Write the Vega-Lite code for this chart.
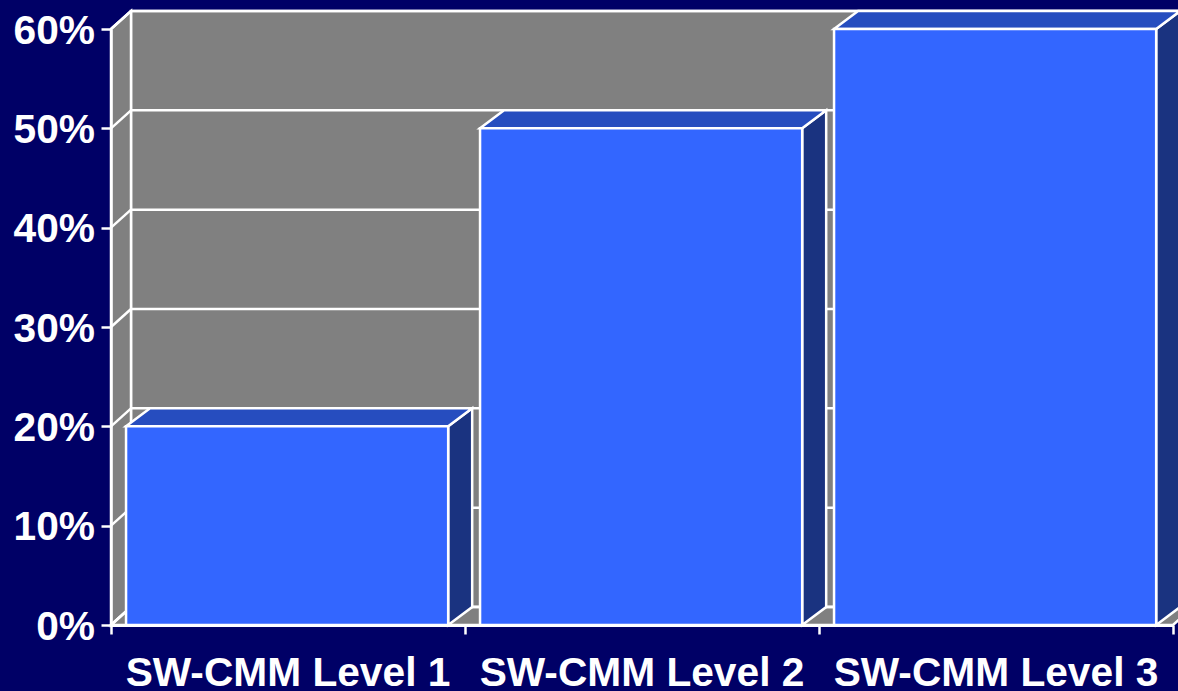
{
  "$schema": "https://vega.github.io/schema/vega-lite/v6.json",
  "width": 1062,
  "height": 596,
  "autosize": {"type": "none"},
  "padding": {"left": 111, "top": 29, "right": 5, "bottom": 66},
  "background": "#000066",
  "config": {"view": {"stroke": null}},
  "datasets": {
    "bars": [
      {"level": "SW-CMM Level 1", "slot": 0, "share": 0.2},
      {"level": "SW-CMM Level 2", "slot": 1, "share": 0.5},
      {"level": "SW-CMM Level 3", "slot": 2, "share": 0.6}
    ],
    "gridlines": [
      {"share": 0}, {"share": 0.1}, {"share": 0.2}, {"share": 0.3},
      {"share": 0.4}, {"share": 0.5}, {"share": 0.6}
    ],
    "frame": [{"xStart": 0, "xEnd": 3, "yStart": 0, "yEnd": 0.6}]
  },
  "encoding": {},
  "layer": [
    {
      "description": "Back wall",
      "data": {"name": "frame"},
      "transform": [
        {"calculate": "[datum.xStart + 0.0565, datum.xEnd + 0.0565]", "as": "vx"},
        {"flatten": ["vx"]},
        {"calculate": "datum.yEnd + 0.0181", "as": "vTop"},
        {"calculate": "datum.yStart + 0.0181", "as": "vBase"}
      ],
      "mark": {"type": "area", "orient": "vertical", "fill": "#808080", "stroke": "white", "strokeWidth": 2.5},
      "encoding": {
        "x": {"field": "vx", "type": "quantitative", "scale": {"domain": [0, 3], "nice": false, "zero": false},
          "axis": {"values": [0, 1, 2, 3], "labels": false, "title": null, "grid": false, "domainColor": "white", "domainWidth": 3, "tickColor": "white", "tickWidth": 2.5, "tickSize": 9, "zindex": 1}},
        "y": {"field": "vTop", "type": "quantitative", "scale": {"domain": [0, 0.6], "nice": false, "zero": false},
          "axis": {"values": [0, 0.1, 0.2, 0.3, 0.4, 0.5, 0.6], "format": ".0%", "title": null, "grid": false, "domainColor": "white", "domainWidth": 2.5, "tickColor": "white", "tickWidth": 2.5, "tickSize": 10, "labelColor": "white", "labelFont": "Liberation Sans", "labelFontWeight": "bold", "labelFontSize": 40.7, "labelPadding": 6.5, "labelBaseline": "middle", "labelOffset": 2, "zindex": 1}},
        "y2": {"field": "vBase"}
      }
    },
    {
      "description": "Left wall",
      "data": {"name": "frame"},
      "transform": [
        {"calculate": "[datum.xStart, datum.xStart + 0.0565]", "as": "vx"},
        {"calculate": "[datum.yEnd, datum.yEnd + 0.0181]", "as": "vTop"},
        {"calculate": "[datum.yStart, datum.yStart + 0.0181]", "as": "vBase"},
        {"flatten": ["vx", "vTop", "vBase"]}
      ],
      "mark": {"type": "area", "orient": "vertical", "fill": "#808080", "stroke": "white", "strokeWidth": 2.5},
      "encoding": {
        "x": {"field": "vx", "type": "quantitative"},
        "y": {"field": "vTop", "type": "quantitative"},
        "y2": {"field": "vBase"}
      }
    },
    {
      "description": "Floor",
      "data": {"name": "frame"},
      "transform": [
        {"calculate": "[datum.xStart, datum.xStart + 0.0565, datum.xEnd, datum.xEnd + 0.0565]", "as": "vx"},
        {"calculate": "[datum.yStart, datum.yStart + 0.0181, datum.yStart + 0.0181, datum.yStart + 0.0181]", "as": "vTop"},
        {"calculate": "[datum.yStart, datum.yStart, datum.yStart, datum.yStart + 0.0181]", "as": "vBase"},
        {"flatten": ["vx", "vTop", "vBase"]}
      ],
      "mark": {"type": "area", "orient": "vertical", "fill": "#808080", "stroke": "white", "strokeWidth": 2.5},
      "encoding": {
        "x": {"field": "vx", "type": "quantitative"},
        "y": {"field": "vTop", "type": "quantitative"},
        "y2": {"field": "vBase"}
      }
    },
    {
      "description": "Gridlines across the back wall",
      "data": {"name": "gridlines"},
      "transform": [
        {"calculate": "0.0565", "as": "x0"},
        {"calculate": "3.0565", "as": "x1"},
        {"calculate": "datum.share + 0.0181", "as": "v"}
      ],
      "mark": {"type": "rule", "color": "white", "strokeWidth": 2.5},
      "encoding": {
        "x": {"field": "x0", "type": "quantitative"},
        "x2": {"field": "x1"},
        "y": {"field": "v", "type": "quantitative"}
      }
    },
    {
      "description": "Gridlines running up the left wall",
      "data": {"name": "gridlines"},
      "transform": [
        {"calculate": "0", "as": "x0"},
        {"calculate": "0.0565", "as": "x1"},
        {"calculate": "datum.share + 0.0181", "as": "v"}
      ],
      "mark": {"type": "rule", "color": "white", "strokeWidth": 2.5},
      "encoding": {
        "x": {"field": "x0", "type": "quantitative"},
        "x2": {"field": "x1"},
        "y": {"field": "share", "type": "quantitative"},
        "y2": {"field": "v"}
      }
    },
    {
      "description": "Bar side faces",
      "data": {"name": "bars"},
      "transform": [
        {"calculate": "[datum.slot + 0.9525, datum.slot + 0.9525 + 0.0678]", "as": "vx"},
        {"calculate": "[datum.share, datum.share + 0.0181]", "as": "vTop"},
        {"calculate": "[0, 0.0181]", "as": "vBase"},
        {"flatten": ["vx", "vTop", "vBase"]}
      ],
      "mark": {"type": "area", "orient": "vertical", "fill": "#1A3380", "stroke": "white", "strokeWidth": 2.5},
      "encoding": {
        "detail": {"field": "level"},
        "x": {"field": "vx", "type": "quantitative"},
        "y": {"field": "vTop", "type": "quantitative"},
        "y2": {"field": "vBase"}
      }
    },
    {
      "description": "Bar top faces",
      "data": {"name": "bars"},
      "transform": [
        {"calculate": "[datum.slot + 0.0425, datum.slot + 0.0425 + 0.0678, datum.slot + 0.9525, datum.slot + 0.9525 + 0.0678]", "as": "vx"},
        {"calculate": "[datum.share, datum.share + 0.0181, datum.share + 0.0181, datum.share + 0.0181]", "as": "vTop"},
        {"calculate": "[datum.share, datum.share, datum.share, datum.share + 0.0181]", "as": "vBase"},
        {"flatten": ["vx", "vTop", "vBase"]}
      ],
      "mark": {"type": "area", "orient": "vertical", "fill": "#264DBF", "stroke": "white", "strokeWidth": 2.5},
      "encoding": {
        "detail": {"field": "level"},
        "x": {"field": "vx", "type": "quantitative"},
        "y": {"field": "vTop", "type": "quantitative"},
        "y2": {"field": "vBase"}
      }
    },
    {
      "description": "Bar front faces",
      "data": {"name": "bars"},
      "transform": [
        {"calculate": "datum.slot + 0.0425", "as": "x0"},
        {"calculate": "datum.slot + 0.9525", "as": "x1"},
        {"calculate": "0", "as": "base"}
      ],
      "mark": {"type": "rect", "fill": "#3366FF", "stroke": "white", "strokeWidth": 2.5},
      "encoding": {
        "x": {"field": "x0", "type": "quantitative"},
        "x2": {"field": "x1"},
        "y": {"field": "share", "type": "quantitative"},
        "y2": {"field": "base"}
      }
    },
    {
      "description": "Category names under each bar",
      "data": {"name": "bars"},
      "transform": [
        {"calculate": "datum.slot + 0.5", "as": "centre"},
        {"calculate": "0", "as": "base"}
      ],
      "mark": {"type": "text", "color": "white", "font": "Liberation Sans", "fontWeight": "bold", "fontSize": 40.7, "baseline": "alphabetic", "align": "center", "dy": 61},
      "encoding": {
        "x": {"field": "centre", "type": "quantitative"},
        "y": {"field": "base", "type": "quantitative"},
        "text": {"field": "level"}
      }
    }
  ]
}
